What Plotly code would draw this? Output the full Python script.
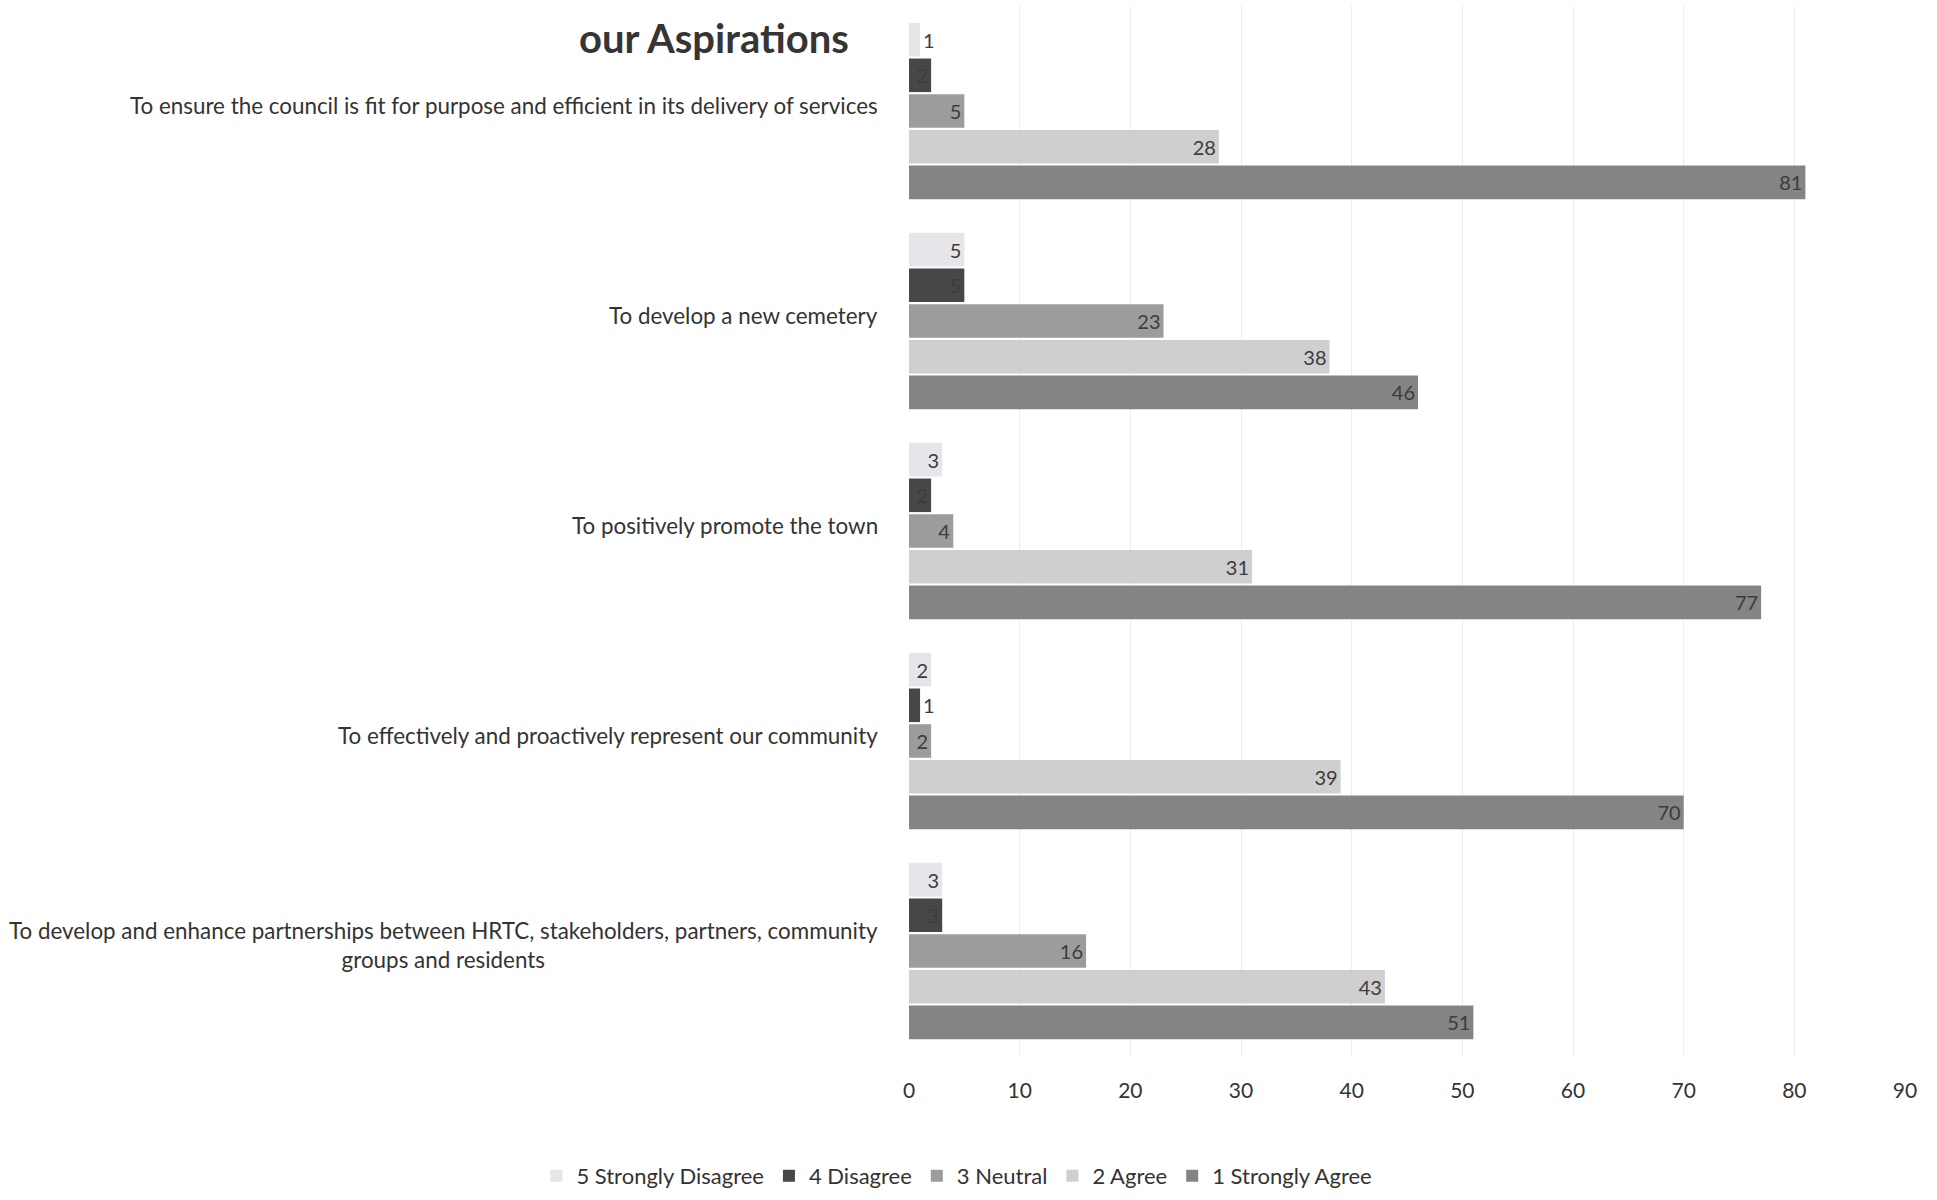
import plotly.graph_objects as go

# Survey statements (top to bottom)
statements = [
    "To ensure the council is fit for purpose and efficient in its delivery of services",
    "To develop a new cemetery",
    "To positively promote the town",
    "To effectively and proactively represent our community",
    "To develop and enhance partnerships between HRTC, stakeholders, partners, community<br>groups and residents",
]

# Response counts per answer option, one value per statement
strongly_disagree = [1, 5, 3, 2, 3]
disagree = [2, 5, 2, 1, 3]
neutral = [5, 23, 4, 2, 16]
agree = [28, 38, 31, 39, 43]
strongly_agree = [81, 46, 77, 70, 51]

series_names = ["5 Strongly Disagree", "4 Disagree", "3 Neutral", "2 Agree", "1 Strongly Agree"]
series_values = [strongly_disagree, disagree, neutral, agree, strongly_agree]
series_colors = ["#e6e6ea", "#474747", "#9c9c9c", "#cfcfd2", "#848484"]

x_ticks = [0, 10, 20, 30, 40, 50, 60, 70, 80, 90]

FONT = "Lato, 'Open Sans', sans-serif"
TEXT = "#333333"

fig = go.Figure()
for name, vals, col in zip(series_names, series_values, series_colors):
    fig.add_trace(go.Bar(
        name=name,
        y=statements,
        x=vals,
        orientation="h",
        marker=dict(color=col, line=dict(width=0)),
        text=[str(v) for v in vals],
        textposition="auto",
        insidetextanchor="end",
        constraintext="none",
        textfont=dict(family=FONT, size=20, color="#3c3c3c"),
        insidetextfont=dict(family=FONT, size=20, color="#3c3c3c"),
        outsidetextfont=dict(family=FONT, size=20, color="#3c3c3c"),
        cliponaxis=False,
    ))

# Category labels, centred line by line and right-aligned next to the plot
for s in statements:
    fig.add_annotation(
        x=-0.029, xref="paper", y=s, yref="y",
        text=s, showarrow=False, xanchor="right", yanchor="middle",
        align="center", yshift=6,
        font=dict(family=FONT, size=22.4, color=TEXT),
    )

# Chart title
fig.add_annotation(
    x=-0.058, xref="paper", y=0.9695, yref="paper",
    text="<b>our Aspirations</b>", showarrow=False,
    xanchor="right", yanchor="middle",
    font=dict(family=FONT, size=40, color="#353535"),
)

fig.update_layout(
    width=1937, height=1200,
    margin=dict(l=909, r=32, t=6, b=144),
    paper_bgcolor="white", plot_bgcolor="white",
    barmode="group", bargap=0.15, bargroupgap=0.06,
    font=dict(family=FONT, size=22, color=TEXT),
    showlegend=True,
    legend=dict(
        orientation="h", xref="container", yref="container",
        x=0.494, xanchor="center", y=0.02, yanchor="middle",
        font=dict(family=FONT, size=22, color=TEXT),
        itemwidth=30, traceorder="normal",
    ),
    xaxis=dict(
        range=[0, 90], tickvals=x_ticks, ticktext=[str(t) for t in x_ticks],
        showgrid=True, gridcolor="#ececec", gridwidth=1,
        zeroline=False, showline=False, ticks="",
        ticklabelstandoff=20,
        tickfont=dict(family=FONT, size=21, color=TEXT),
    ),
    yaxis=dict(
        autorange="reversed", showticklabels=False, showgrid=False,
        zeroline=False, showline=False, ticks="",
    ),
)

fig.write_html("out.html")
